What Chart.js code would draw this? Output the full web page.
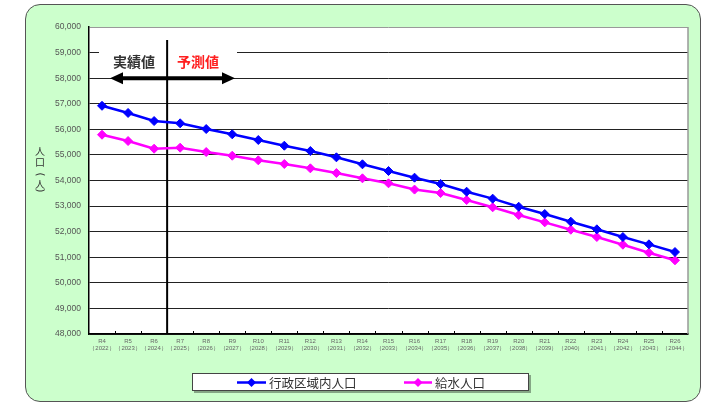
<!DOCTYPE html>
<html>
<head>
<meta charset="utf-8">
<script src="https://cdn.jsdelivr.net/npm/chart.js@4/dist/chart.umd.min.js"></script>
<style>
  html, body { margin: 0; padding: 0; background: #fff; width: 716px; height: 404px; overflow: hidden; }
  #panel { position: absolute; left: 25px; top: 4px; width: 676px; height: 398px;
           background: #ccffcc; border: 1.5px solid #555; border-radius: 15px; box-sizing: border-box; }
  #wrap { position: absolute; left: 0; top: 0; width: 716px; height: 404px; }
</style>
</head>
<body>
<div id="panel"></div>
<div id="wrap"><canvas id="c" width="716" height="404"></canvas></div>
<script>
const categories = ['R4','R5','R6','R7','R8','R9','R10','R11','R12','R13','R14','R15','R16','R17','R18','R19','R20','R21','R22','R23','R24','R25','R26'];
const years = ['2022','2023','2024','2025','2026','2027','2028','2029','2030','2031','2032','2033','2034','2035','2036','2037','2038','2039','2040','2041','2042','2043','2044'];
const adminPop = [56920, 56640, 56325, 56235, 56012, 55805, 55583, 55360, 55153, 54906, 54633, 54371, 54110, 53862, 53562, 53290, 52975, 52690, 52390, 52092, 51790, 51505, 51204];
const waterPop = [55790, 55543, 55243, 55282, 55113, 54969, 54789, 54645, 54476, 54292, 54085, 53890, 53645, 53510, 53237, 52952, 52651, 52365, 52076, 51791, 51490, 51177, 50880];
const seriesNames = ['行政区域内人口', '給水人口'];
const yMin = 48000, yMax = 60000, yStep = 1000;
const yTitleChars = ['人', '口', '(', '人', ')'];
const actualLabel = '実績値';
const forecastLabel = '予測値';
const splitIndex = 3; // boundary between actual and forecast

const labels = categories.map((c, i) => [c, '（' + years[i] + '）']);

const JP = '"Noto Sans CJK JP", "Noto Sans", sans-serif';

const decor = {
  id: 'decor',
  beforeDraw(chart) {
    const {ctx, chartArea: a} = chart;
    ctx.save();
    ctx.fillStyle = '#fff';
    ctx.fillRect(a.left, a.top, a.right - a.left, a.bottom - a.top);
    ctx.restore();
  },
  beforeDatasetsDraw(chart) {
    const {ctx, chartArea: a, scales: {x, y}} = chart;
    ctx.save();
    // right border
    ctx.strokeStyle = '#999';
    ctx.lineWidth = 1.5;
    ctx.beginPath();
    ctx.moveTo(a.right, a.top); ctx.lineTo(a.right, a.bottom);
    ctx.stroke();
    // inner tick marks on x axis
    ctx.strokeStyle = '#000';
    ctx.lineWidth = 1;
    for (let i = 1; i < categories.length; i++) {
      const px = Math.round((x.getPixelForValue(i - 1) + x.getPixelForValue(i)) / 2) + 0.5;
      ctx.beginPath();
      ctx.moveTo(px, a.bottom); ctx.lineTo(px, a.bottom - 3);
      ctx.stroke();
    }
    // white label box
    const bx = (x.getPixelForValue(splitIndex - 1) + x.getPixelForValue(splitIndex)) / 2;
    ctx.fillStyle = '#fff';
    ctx.fillRect(99, y.getPixelForValue(59000) - 6, 138, 22);
    // text
    ctx.font = 'bold 14px ' + JP;
    ctx.textBaseline = 'middle';
    ctx.textAlign = 'center';
    ctx.fillStyle = '#333';
    ctx.fillText(actualLabel, 134, 62);
    ctx.fillStyle = '#ff2020';
    ctx.fillText(forecastLabel, 198, 62);
    // arrow
    const ay = y.getPixelForValue(58000);
    ctx.strokeStyle = '#000';
    ctx.fillStyle = '#000';
    ctx.lineWidth = 4;
    ctx.beginPath();
    ctx.moveTo(118, ay); ctx.lineTo(226, ay);
    ctx.stroke();
    ctx.beginPath();
    ctx.moveTo(110, ay); ctx.lineTo(123, ay - 6); ctx.lineTo(123, ay + 6); ctx.closePath();
    ctx.fill();
    ctx.beginPath();
    ctx.moveTo(235, ay); ctx.lineTo(222, ay - 6); ctx.lineTo(222, ay + 6); ctx.closePath();
    ctx.fill();
    // vertical split line
    ctx.lineWidth = 2;
    ctx.beginPath();
    ctx.moveTo(bx, 40); ctx.lineTo(bx, a.bottom);
    ctx.stroke();
    ctx.restore();
  },
  afterDraw(chart) {
    const {ctx} = chart;
    ctx.save();
    // y title, vertical
    ctx.fillStyle = '#333';
    ctx.textAlign = 'center';
    ctx.textBaseline = 'middle';
    const ys = [151.5, 162.5, 174.5, 184, 190.5];
    yTitleChars.forEach((ch, i) => {
      if (ch === '(' || ch === ')') {
        ctx.save();
        ctx.translate(40, ys[i]);
        ctx.rotate(Math.PI / 2);
        ctx.font = '10px "DejaVu Sans", sans-serif';
        ctx.fillText(ch, 0, 0);
        ctx.restore();
      } else {
        ctx.font = '10px ' + JP;
        ctx.fillText(ch, 40, ys[i]);
      }
    });
    // legend
    ctx.fillStyle = 'rgba(0,0,0,0.35)';
    ctx.fillRect(194, 375, 337, 18);
    ctx.fillStyle = '#fff';
    ctx.fillRect(192, 373, 337, 18);
    ctx.strokeStyle = '#444';
    ctx.lineWidth = 1;
    ctx.strokeRect(192.5, 373.5, 336, 17);
    const items = [
      {x0: 237, x1: 266, tx: 269},
      {x0: 404, x1: 432, tx: 435}
    ];
    chart.data.datasets.forEach((ds, i) => {
      const it = items[i];
      const ly = 382.5;
      ctx.strokeStyle = ds.borderColor;
      ctx.lineWidth = 2.5;
      ctx.beginPath(); ctx.moveTo(it.x0, ly); ctx.lineTo(it.x1, ly); ctx.stroke();
      const cx = (it.x0 + it.x1) / 2, r = 4.5;
      ctx.fillStyle = ds.borderColor;
      ctx.beginPath();
      ctx.moveTo(cx, ly - r); ctx.lineTo(cx + r, ly); ctx.lineTo(cx, ly + r); ctx.lineTo(cx - r, ly);
      ctx.closePath(); ctx.fill();
      ctx.fillStyle = '#333';
      ctx.font = '12.5px ' + JP;
      ctx.textAlign = 'left';
      ctx.textBaseline = 'middle';
      ctx.fillText(ds.label, it.tx, ly + 0.5);
    });
    ctx.restore();
  }
};

new Chart(document.getElementById('c'), {
  type: 'line',
  data: {
    labels: labels,
    datasets: [
      { label: seriesNames[0], data: adminPop, borderColor: '#0000ff', backgroundColor: '#0000ff',
        borderWidth: 2.5, pointStyle: 'rectRot', pointRadius: 4.5, pointBorderWidth: 1, tension: 0 },
      { label: seriesNames[1], data: waterPop, borderColor: '#ff00ff', backgroundColor: '#ff00ff',
        borderWidth: 2.5, pointStyle: 'rectRot', pointRadius: 4.5, pointBorderWidth: 1, tension: 0 }
    ]
  },
  options: {
    responsive: false,
    animation: false,
    layout: { padding: { left: 0, right: 28, top: 27, bottom: 0 } },
    plugins: { legend: { display: false }, tooltip: { enabled: false } },
    scales: {
      x: {
        offset: true,
        grid: { display: false, drawTicks: false },
        border: { display: true, color: '#000', width: 1.5 },
        ticks: { autoSkip: false, maxRotation: 0, minRotation: 0, padding: 4, color: '#666',
                 font: { size: 6, family: '"Liberation Sans", Arial, sans-serif', lineHeight: 1.15 } },
        afterFit(s) { s.height = 70; }
      },
      y: {
        min: yMin, max: yMax,
        grid: { drawTicks: false, color: (c) => (c.tick && c.tick.value === yMax) ? '#999' : '#222', lineWidth: 1 },
        border: { display: true, color: '#000', width: 1.5 },
        ticks: { stepSize: yStep, padding: 8, color: '#555',
                 font: { size: 8.5, family: '"Liberation Sans", Arial, sans-serif' },
                 callback: (v) => v.toLocaleString('en-US') },
        afterFit(s) { s.width = 89; }
      }
    }
  },
  plugins: [decor]
});
</script>
</body>
</html>
